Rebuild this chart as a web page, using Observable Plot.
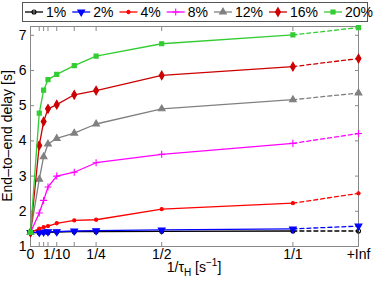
<!DOCTYPE html>
<html><head><meta charset="utf-8">
<script src="https://cdn.jsdelivr.net/npm/d3@7"></script>
<script src="https://cdn.jsdelivr.net/npm/@observablehq/plot@0.6"></script>
<style>
body{margin:0;background:#fff;font-family:"Liberation Sans",Arial,sans-serif;}
#chart{width:374px;height:286px;overflow:hidden;}
#chart svg{display:block;}
</style></head><body><div id="chart"></div>
<script>
// x positions (1/tauH), +Inf drawn at 1.25
const xPos = [0, 1/30, 1/20, 1/15, 1/10, 1/6, 1/4, 1/2, 1, 1.25];
const xTickLabels = ["0", "", "", "", "1/10", "", "1/4", "1/2", "1/1", "+Inf"];
const yTicks = [1, 2, 3, 4, 5, 6, 7];
const seriesNames = ["1%", "2%", "4%", "8%", "12%", "16%", "20%"];
const s1  = [1.40, 1.39, 1.40, 1.40, 1.41, 1.42, 1.42, 1.43, 1.44, 1.44];
const s2  = [1.40, 1.40, 1.41, 1.42, 1.42, 1.44, 1.45, 1.47, 1.50, 1.58];
const s4  = [1.40, 1.51, 1.55, 1.58, 1.66, 1.74, 1.76, 2.06, 2.23, 2.51];
const s8  = [1.40, 1.95, 2.31, 2.69, 3.00, 3.11, 3.38, 3.62, 3.93, 4.21];
const s12 = [1.40, 2.91, 3.55, 3.91, 4.07, 4.22, 4.48, 4.91, 5.17, 5.36];
const s16 = [1.40, 3.87, 4.55, 4.91, 5.03, 5.31, 5.43, 5.86, 6.11, 6.34];
const s20 = [1.40, 4.79, 5.44, 5.74, 5.89, 6.14, 6.41, 6.76, 7.01, 7.22];
const seriesValues = [s1, s2, s4, s8, s12, s16, s20];

// styles
const colors = ["#000000", "#0000ff", "#ff0000", "#ff00ff", "#808080", "#cc0000", "#33cc33"];
const symbols = ["circle", "triangle", "circle", "plus", "triangle", "diamond", "square"];
const rotations = [0, 180, 0, 0, 0, 0, 0];
const radii = [2, 2.5, 1.6, 2.4, 2.5, 2.6, 2.3];
const filled = [false, true, true, false, true, true, true];

const root = d3.select("#chart");
const font = "Liberation Sans, Arial, sans-serif";

// ---- legend ----
const leg = root.append("svg").attr("width", 374).attr("height", 24)
  .attr("font-family", font).attr("font-size", 14);
leg.append("rect").attr("x", 22.5).attr("y", 2.5).attr("width", 345).attr("height", 19)
  .attr("fill", "#fff").attr("stroke", "#555").attr("stroke-width", 1);
const symMap = {circle: d3.symbolCircle, triangle: d3.symbolTriangle, plus: d3.symbolPlus, diamond: d3.symbolDiamond, square: d3.symbolSquare};
let lx = 25;
seriesNames.forEach((name, i) => {
  const g = leg.append("g");
  g.append("line").attr("x1", lx).attr("x2", lx + 18).attr("y1", 12).attr("y2", 12)
    .attr("stroke", colors[i]).attr("stroke-width", 1.3);
  const area = Math.PI * radii[i] * radii[i];
  g.append("path").attr("d", d3.symbol(symMap[symbols[i]], area)())
    .attr("transform", `translate(${lx + 9},12) rotate(${rotations[i]})`)
    .attr("fill", filled[i] ? colors[i] : "none").attr("stroke", colors[i]).attr("stroke-width", 1.1);
  const t = g.append("text").attr("x", lx + 21).attr("y", 17).text(name).attr("fill", "#000");
  lx += 21 + t.node().getComputedTextLength() + 6;
});

// ---- plot ----
const marks = [];
seriesNames.forEach((name, i) => {
  const rows = seriesValues[i].map((v, j) => ({x: xPos[j], y: v}));
  marks.push(Plot.line(rows.slice(0, 9), {x: "x", y: "y", stroke: colors[i], strokeWidth: 1.3}));
  marks.push(Plot.line(rows.slice(8), {x: "x", y: "y", stroke: colors[i], strokeWidth: 1.3, strokeDasharray: "4,3"}));
  marks.push(Plot.dot(rows, {x: "x", y: "y", symbol: symbols[i], r: radii[i], rotate: rotations[i],
    fill: filled[i] ? colors[i] : "none", stroke: colors[i], strokeWidth: 1.1}));
});

const plot = Plot.plot({
  width: 374, height: 262,
  marginLeft: 30, marginRight: 16, marginTop: 2, marginBottom: 40,
  style: {fontFamily: font, fontSize: "14px", background: "#fff", overflow: "visible"},
  x: {domain: [0, 1.25]},
  y: {domain: [1, 7.25]},
  marks: [
    Plot.frame({stroke: "#888"}),
    Plot.axisX({ticks: xPos, tickFormat: d => xTickLabels[xPos.indexOf(d)], tickSize: -4, tickPadding: 7, stroke: "#888", label: null, fontSize: 14}),
    Plot.axisX({anchor: "top", ticks: xPos, tickFormat: () => "", tickSize: -4, stroke: "#888", label: null}),
    Plot.axisY({ticks: yTicks, tickFormat: d => String(d), tickSize: -4, tickPadding: 8, stroke: "#888", label: null, fontSize: 14}),
    Plot.axisY({anchor: "right", ticks: yTicks, tickFormat: () => "", tickSize: -4, stroke: "#888", label: null}),
    ...marks
  ]
});
root.node().appendChild(plot);

const svg = d3.select(plot);
// x axis label with subscript/superscript
const xl = svg.append("text").attr("x", 194).attr("y", 248).attr("text-anchor", "middle")
  .attr("font-size", 14).attr("font-family", font).attr("fill", "#000");
xl.append("tspan").text("1/τ");
xl.append("tspan").attr("font-size", 10).attr("dy", 4).text("H");
xl.append("tspan").attr("dy", -4).text(" [s");
xl.append("tspan").attr("font-size", 10).attr("dy", -6).text("−1");
xl.append("tspan").attr("dy", 6).text("]");
// y axis label
svg.append("text").attr("transform", "translate(12,112) rotate(-90)").attr("text-anchor", "middle")
  .attr("font-size", 14).attr("font-family", font).attr("fill", "#000").text("End–to–end delay [s]");
</script></body></html>
